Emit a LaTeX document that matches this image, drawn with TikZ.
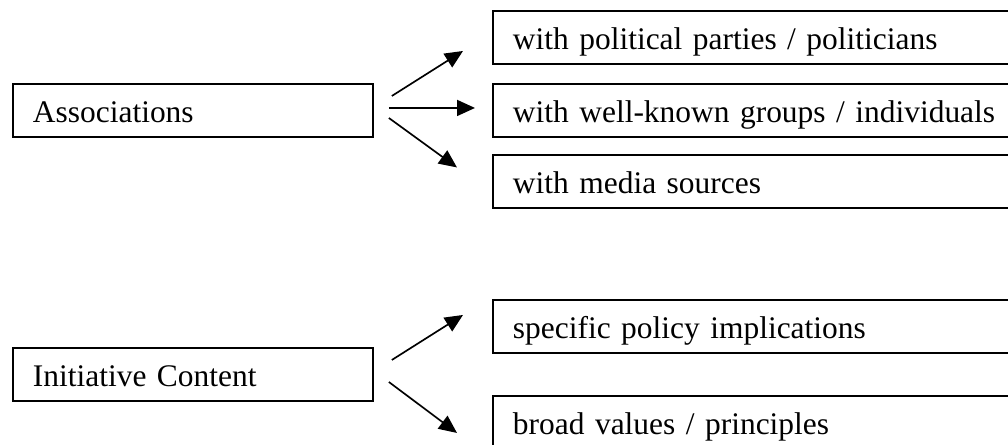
\documentclass[tikz,border=0pt]{standalone}
\usepackage{fontspec}
\setmainfont{Liberation Serif}
\usepackage{tikz}
\usetikzlibrary{arrows.meta}

\tikzset{
    box/.style={draw, line width=1.1pt, anchor=north west, align=left,
        inner xsep=0.4cm, inner ysep=0pt, text height=0.78cm, text depth=0.28cm,
        font=\fontsize{17.9pt}{20pt}\selectfont},
    leftbox/.style={box, text width=6.4cm},
    rightbox/.style={box, text width=10.4cm},
    arr/.style={line width=0.95pt, -{Triangle[length=0.36cm,width=0.32cm]}}
}

\begin{document}
\begin{tikzpicture}[x=0.02cm, y=0.02cm]

    \clip (0,0) rectangle (1008,444);

    % associations
    \node[leftbox]  (assoc) at (12,361) {Associations};
    \node[rightbox] (pol)   at (492,434) {with political parties / politicians};
    \node[rightbox] (grp)   at (492,361) {with well-known groups / individuals};
    \node[rightbox] (media) at (492,290) {with media sources};

    \draw[arr] ([xshift=0.36cm,yshift=0.29cm]assoc.east) -- ([xshift=-0.58cm,yshift=-0.27cm]pol.west);
    \draw[arr] ([xshift=0.30cm,yshift=0.05cm]assoc.east) -- ([xshift=-0.34cm,yshift=0.05cm]grp.west);
    \draw[arr] ([xshift=0.30cm,yshift=-0.15cm]assoc.east) -- ([xshift=-0.70cm,yshift=0.28cm]media.west);

    % initiative content
    \node[leftbox]  (init)   at (12,97) {Initiative Content};
    \node[rightbox] (policy) at (492,145) {specific policy implications};
    \node[rightbox] (values) at (492,49) {broad values / principles};

    \draw[arr] ([xshift=0.36cm,yshift=0.29cm]init.east) -- ([xshift=-0.58cm,yshift=0.23cm]policy.west);
    \draw[arr] ([xshift=0.30cm,yshift=-0.15cm]init.east) -- ([xshift=-0.70cm,yshift=-0.21cm]values.west);

\end{tikzpicture}
\end{document}
